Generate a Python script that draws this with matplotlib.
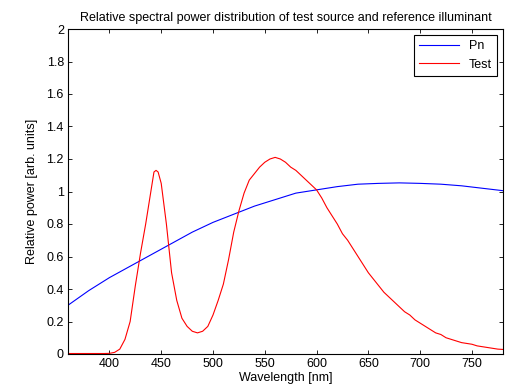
import matplotlib
matplotlib.use("Agg")
import matplotlib.pyplot as plt
import numpy as np

plt.rcParams['font.family'] = ['Liberation Sans', 'DejaVu Sans']

# reference illuminant (Pn), read every 20 nm
pn_wl = [360, 380, 400, 420, 440, 460, 480, 500, 520, 540, 560,
         580, 600, 620, 640, 660, 680, 700, 720, 740, 760, 780]
pn_val = [0.30, 0.39, 0.47, 0.54, 0.61, 0.68, 0.75, 0.81, 0.86, 0.91, 0.95,
          0.99, 1.01, 1.03, 1.045, 1.05, 1.053, 1.05, 1.045, 1.035, 1.02, 1.005]

# test source, read every ~5 nm
test_wl = [360, 370, 380, 390, 395, 400, 405, 410, 415, 420, 425, 430, 435, 440,
           443, 445, 447, 450, 455, 460, 465, 470, 475, 480, 485, 490, 495,
           500, 505, 510, 515, 520, 525, 530, 535, 540, 545, 550, 555, 560,
           565, 570, 575, 580, 585, 590, 595, 600, 605, 610, 615, 620, 625,
           630, 635, 640, 645, 650, 655, 660, 665, 670, 675, 680, 685, 690,
           695, 700, 705, 710, 715, 720, 725, 730, 735, 740, 745, 750, 755,
           760, 765, 770, 775, 780]
test_val = [0.003, 0.003, 0.003, 0.003, 0.003, 0.004, 0.01, 0.03, 0.09, 0.2, 0.42,
            0.62, 0.80, 1.0, 1.12, 1.13, 1.12, 1.05, 0.80, 0.50, 0.33, 0.22,
            0.17, 0.14, 0.13, 0.14, 0.17, 0.24, 0.33, 0.43, 0.58, 0.75, 0.88,
            0.99, 1.07, 1.11, 1.15, 1.18, 1.20, 1.21, 1.20, 1.18, 1.15, 1.13,
            1.10, 1.07, 1.04, 1.01, 0.96, 0.90, 0.85, 0.80, 0.74, 0.70, 0.65,
            0.60, 0.55, 0.50, 0.46, 0.42, 0.38, 0.35, 0.32, 0.29, 0.26, 0.24,
            0.21, 0.19, 0.17, 0.15, 0.13, 0.12, 0.10, 0.09, 0.08, 0.07, 0.065,
            0.06, 0.05, 0.045, 0.04, 0.035, 0.03, 0.028]

fig = plt.figure(figsize=(5.06, 3.9), dpi=100)
ax = fig.add_axes([68/506, 36/390, 435/506, 325/390])

ax.plot(pn_wl, pn_val, color='#0000ff', lw=0.8, label='Pn')
ax.plot(test_wl, test_val, color='#ff0000', lw=0.8, label='Test')

ax.set_xlim(360, 780)
ax.set_ylim(0, 2)
ax.set_xticks(np.arange(400, 751, 50))
ax.set_yticks(np.arange(0, 2.01, 0.2))
ax.set_yticklabels(['0', '0.2', '0.4', '0.6', '0.8', '1', '1.2', '1.4', '1.6', '1.8', '2'])
ax.tick_params(direction='in', top=True, right=True, labelsize=9, length=3, width=0.6, pad=3)
for s in ax.spines.values():
    s.set_linewidth(0.8)

ax.set_title('Relative spectral power distribution of test source and reference illuminant',
             fontsize=9, pad=6)
ax.set_xlabel('Wavelength [nm]', fontsize=9, labelpad=1)
ax.set_ylabel('Relative power [arb. units]', fontsize=9, labelpad=6)

leg = ax.legend(loc='upper right', fontsize=9, fancybox=False, edgecolor='black',
                framealpha=1, handlelength=3.2, borderaxespad=0.5)
leg.get_frame().set_linewidth(0.8)

fig.savefig('out.png', dpi=100)
